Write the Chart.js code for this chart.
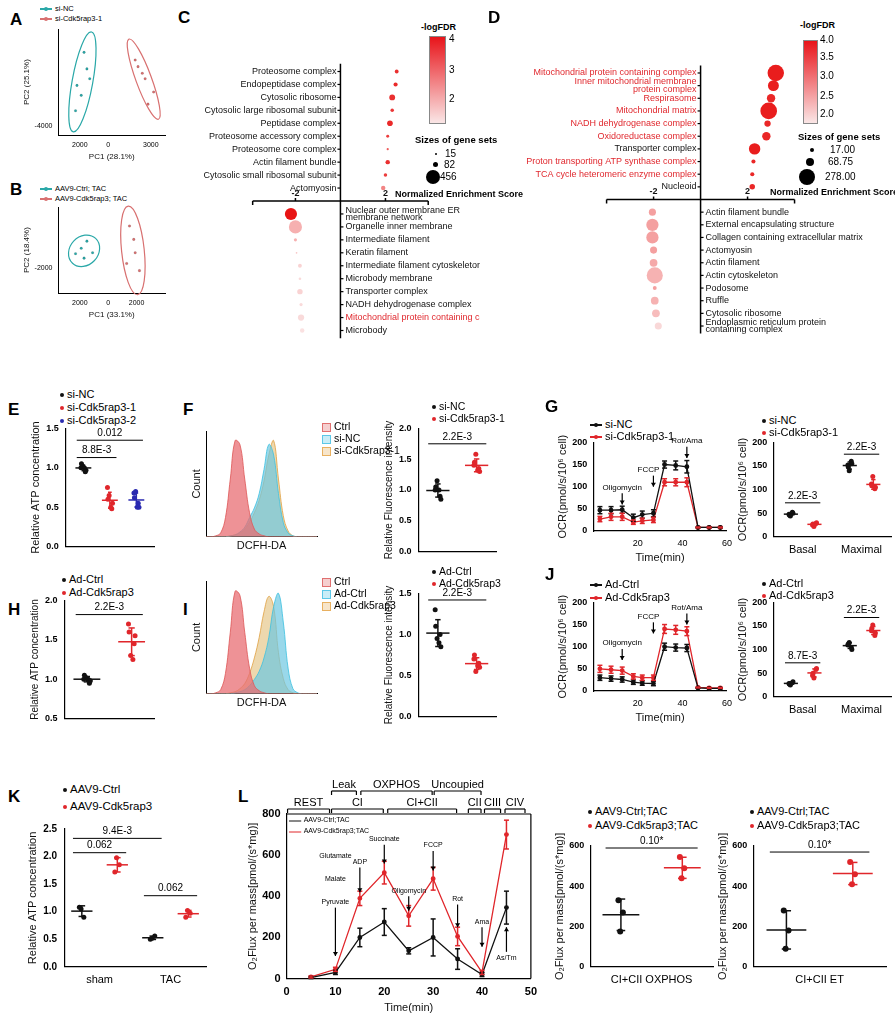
<!DOCTYPE html>
<html><head><meta charset="utf-8">
<script src="https://cdn.jsdelivr.net/npm/chart.js"></script>
<style>
body{margin:0;width:895px;height:1015px;position:relative;font-family:"Liberation Sans",Arial,sans-serif;background:#fff;overflow:hidden}
canvas{position:absolute}
.t{position:absolute;font-size:10px;white-space:nowrap;line-height:1.2}
.L{position:absolute;font-size:17px;font-weight:bold}
.dot{display:inline-block;width:4px;height:4px;border-radius:50%;margin-right:3px;vertical-align:middle}
.box{display:inline-block;width:7px;height:7px;margin-right:3px;vertical-align:middle;border:1px solid}
.ln{display:inline-block;width:12px;height:2px;margin-right:3px;vertical-align:middle;position:relative}
</style></head><body>
<script>
// ===== DATA =====
const pcaA_nc=[[-2300,-2600],[-1900,-1200],[-1500,1200],[-1700,2700],[-2200,-300],[-1300,300]];
const pcaA_kd=[[2100,1400],[2600,300],[3200,-900],[1900,2000],[2800,-2000],[2400,800]];
const pcaB_nc=[[-2300,-400],[-1900,200],[-1500,1000],[-1700,-900],[-1100,-300]];
const pcaB_kd=[[1500,2700],[1800,1200],[1300,-1500],[1900,-300],[2200,-2300]];

const cTopNames=["Proteosome complex","Endopeptidase complex","Cytosolic ribosome","Cytosolic large ribosomal subunit","Peptidase complex","Proteosome accessory complex","Proteosome core complex","Actin filament bundle","Cytosolic small ribosomal subunit","Actomyosin"];
const cTopNES=[2.5,2.45,2.3,2.3,2.2,2.1,2.1,2.1,2.0,1.9];
const cTopFDR=[3.6,3.7,3.6,3.5,3.7,3.4,3.0,3.6,3.4,2.4];
const cTopSize=[30,35,70,25,65,18,10,40,25,40];
const cBotNames=["Nuclear outer membrane ER\nmembrane network","Organelle inner membrane","Intermediate filament","Keratin filament","Intermediate filament cytoskeleton","Microbody membrane","Transporter complex","NADH dehydrogenase complex","Mitochondrial protein containing complex","Microbody"];
const cBotNES=[-2.2,-2.0,-2.0,-1.95,-1.8,-1.8,-1.8,-1.75,-1.75,-1.7];
const cBotFDR=[4.0,1.8,1.8,1.5,1.3,1.2,1.3,1.2,1.2,1.1];
const cBotSize=[300,350,20,6,30,14,60,20,80,40];
const cBotRed=[0,0,0,0,0,0,0,0,1,0];

const dTopNames=["Mitochondrial protein containing complex","Inner mitochondrial membrane\nprotein complex","Respirasome","Mitochondrial matrix","NADH dehydrogenase complex","Oxidoreductase complex","Transporter complex","Proton transporting ATP synthase complex","TCA cycle heteromeric enzyme complex","Nucleoid"];
const dTopNES=[3.2,3.1,3.0,2.9,2.85,2.8,2.3,2.25,2.2,2.2];
const dTopFDR=[3.9,3.9,3.8,3.9,3.8,3.8,3.9,3.8,3.8,3.8];
const dTopSize=[270,120,70,278,40,70,130,17,17,30];
const dTopRed=[1,1,1,1,1,1,0,1,1,0];
const dBotNames=["Actin filament bundle","External encapsulating structure","Collagen containing extracellular matrix","Actomyosin","Actin filament","Actin cytoskeleton","Podosome","Ruffle","Cytosolic ribosome","Endoplasmic reticulum protein\ncontaining complex"];
const dBotNES=[-2.05,-2.05,-2.05,-2.0,-2.0,-1.95,-1.95,-1.95,-1.9,-1.8];
const dBotFDR=[2.5,2.5,2.5,2.5,2.4,2.3,2.5,2.3,2.2,1.9];
const dBotSize=[50,150,150,50,60,260,15,60,60,50];

const eVals=[[1.0,0.95,1.02,0.97,1.05,1.0],[0.75,0.48,0.65,0.55,0.6,0.5],[0.68,0.55,0.7,0.5,0.62,0.5]];
const fHistX=[...Array(24).keys()];
const fCtrl=[0,0,1,4,20,60,100,96,60,25,8,3,1,0,0,0,0,0,0,0,0,0,0,0];
const fNC=[0,0,0,0,0,1,2,5,10,20,30,45,70,96,85,45,15,4,1,0,0,0,0,0];
const fKD=[0,0,0,0,0,1,2,4,8,15,25,38,58,85,100,60,22,6,1,0,0,0,0,0];
const fDot=[[1.0,0.9,1.15,0.85,1.05,1.0],[1.4,1.35,1.58,1.3,1.45,1.32]];
const gTime=[3,8,13,18,22,27,32,37,42,47,52,57];
const gNC=[47,47,48,30,37,40,150,148,145,8,8,8];
const gNCerr=[8,8,8,8,8,8,8,10,14,1,1,1];
const gKD=[27,32,32,20,23,25,110,110,110,8,8,8];
const gKDerr=[6,8,8,5,6,6,8,8,10,1,1,1];
const gCats=["Basal","Maximal"];
const gDot=[[[48,52,44,50,46],[152,160,140,155,148]],[[25,28,22,30,27],[112,102,128,105,108]]];

const hVals=[[1.0,0.95,1.02,0.98,1.05,1.0],[1.7,1.45,1.3,1.55,1.6,1.25]];
const iCtrl=[0,0,1,4,20,60,100,96,60,25,8,3,1,0,0,0,0,0,0,0,0,0,0,0];
const iAd=[0,0,0,0,0,0,1,2,4,8,14,22,35,55,85,98,70,25,5,1,0,0,0,0];
const iKD=[0,0,0,0,0,1,2,5,10,20,35,55,80,95,85,40,15,4,1,0,0,0,0,0];
const iDot=[[1.3,1.0,0.95,0.85,1.1,0.9],[0.7,0.65,0.55,0.6,0.75,0.62]];
const jCtrl=[30,28,26,20,18,17,100,98,97,7,6,6];
const jCtrlErr=[6,6,6,5,5,5,8,8,8,1,1,1];
const jKD=[50,48,46,33,30,30,140,138,135,8,7,7];
const jKDerr=[8,8,8,6,6,6,10,10,10,1,1,1];
const jDot=[[[28,30,25,32,27],[110,105,115,100,112]],[[45,58,40,60,50],[140,130,152,135,145]]];

const kCats=["sham","TAC"];
const kVals=[[[1.08,0.9,1.05],[0.5,0.56,0.52]],[[1.72,1.85,1.98],[0.9,0.97,1.02]]];
const lTime=[5,10,15,20,25,30,35,40,45];
const lCtrl=[5,30,200,275,135,200,95,20,345];
const lCtrlErr=[5,10,45,65,15,90,50,10,80];
const lKD=[8,45,390,515,305,485,205,30,700];
const lKDerr=[5,10,35,55,50,55,45,10,70];
const lPhaseNames=['REST','CI','CI+CII','CII','CIII','CIV','Leak','OXPHOS','Uncoupied'];
const lPhaseFrom=[0,9,20.5,37,40.3,44.5,9,15,30];
const lPhaseTo=[9,20,35,40,44,49,14.5,30,40];
const lPhaseRow=[0,0,0,0,0,0,1,1,1];
const lOx=[[330,270,175],[545,490,440]];
const lEt=[[280,180,90],[520,460,410]];

// ===== HELPERS =====
const FONT='"Liberation Sans", Arial, sans-serif';
Chart.defaults.font.family=FONT;Chart.defaults.font.size=9;Chart.defaults.color='#111';
Chart.defaults.animation=false;
function cv(x,y,w,h){const c=document.createElement('canvas');c.width=w;c.height=h;c.style.left=x+'px';c.style.top=y+'px';c.style.width=w+'px';c.style.height=h+'px';document.body.appendChild(c);return c;}
function T(x,y,html,st){const d=document.createElement('div');d.className='t';d.style.left=x+'px';d.style.top=y+'px';d.innerHTML=html;if(st)d.style.cssText+=st;document.body.appendChild(d);return d;}
function P(x,y,l){const d=document.createElement('div');d.className='L';d.style.left=x+'px';d.style.top=y+'px';d.textContent=l;document.body.appendChild(d);}
function legend(x,y,items,type,gap,fs){items.forEach((it,i)=>{let m;if(type==='dot')m=`<span class="dot" style="background:${it[1]}"></span>`;else if(type==='box')m=`<span class="box" style="border-color:${it[1]};background:${it[1]}55"></span>`;else m=`<span class="ln" style="background:${it[1]}"><span style="position:absolute;left:4px;top:-1.5px;width:4px;height:4px;border-radius:50%;background:${it[1]}"></span></span>`;T(x,y+i*(gap||13),m+it[0],'font-size:'+(fs||11)+'px');});}
function ln(ctx,x1,y1,x2,y2,c,w){ctx.save();ctx.strokeStyle=c;ctx.lineWidth=w||1;ctx.beginPath();ctx.moveTo(x1,y1);ctx.lineTo(x2,y2);ctx.stroke();ctx.restore();}
function tx(ctx,t,x,y,f,c,al,bl){ctx.save();ctx.font=f||('9px '+FONT);ctx.fillStyle=c||'#111';ctx.textAlign=al||'center';ctx.textBaseline=bl||'bottom';ctx.fillText(t,x,y);ctx.restore();}
const mean=a=>a.reduce((s,v)=>s+v,0)/a.length;
const sd=a=>{const m=mean(a);return Math.sqrt(a.reduce((s,v)=>s+(v-m)*(v-m),0)/(a.length-1));};
function yAx(min,max,step,title,extra){return Object.assign({min,max,border:{color:'#000',width:1.2},grid:{display:false,drawTicks:true,tickLength:4,tickColor:'#000'},ticks:{stepSize:step,font:{size:9,weight:'bold'},color:'#000',padding:2},title:{display:!!title,text:title,font:{size:11},padding:1}},extra||{});}
function errDraw(ch,x,m,s,col,hw,cw){const c=ch.ctx,X=ch.scales.x,Y=ch.scales.y;const px=X.getPixelForValue(x);ln(c,px,Y.getPixelForValue(m-s),px,Y.getPixelForValue(m+s),col,1.5);if(hw)ln(c,X.getPixelForValue(x-hw),Y.getPixelForValue(m),X.getPixelForValue(x+hw),Y.getPixelForValue(m),col,1.5);[m-s,m+s].forEach(v=>ln(c,px-cw,Y.getPixelForValue(v),px+cw,Y.getPixelForValue(v),col,1.5));}
const JIT=[-0.1,0.08,-0.03,0.11,-0.08,0.04];
function dotPlot(c,o){
 const G=o.vals.length, C=o.cats.length, gw=o.gw||0.45, jw=o.jw||1;
 const pos=(ci,g)=>ci+(g-(G-1)/2)*gw;
 const ds=o.vals.map((gv,g)=>({data:gv.flatMap((arr,ci)=>arr.map((v,k)=>({x:pos(ci,g)+JIT[k%6]*jw*gw,y:v}))),backgroundColor:o.colors[g],borderWidth:0,pointRadius:o.pr||2.5}));
 new Chart(c,{type:'scatter',data:{datasets:ds},options:{responsive:false,layout:{padding:{top:o.pt||4,right:4}},plugins:{legend:{display:false},tooltip:{enabled:false}},
  scales:{x:{min:-0.5-(o.xpad||0),max:C-0.5+(o.xpad||0),border:{color:'#000',width:1.2},grid:{display:false,tickLength:4,tickColor:'#000'},afterBuildTicks:s=>{s.ticks=o.cats.map((_,i)=>({value:i}))},ticks:{display:!o.noX,font:{size:11},color:'#000',callback:(v,i)=>o.cats[i]}},y:yAx(o.min,o.max,o.step,o.title,o.yx)}},
  plugins:[{afterDatasetsDraw(ch){o.vals.forEach((gv,g)=>gv.forEach((arr,ci)=>errDraw(ch,pos(ci,g),mean(arr),sd(arr),o.colors[g],gw*0.3,gw*0.14*ch.scales.x.width/(C+1))));
   (o.br||[]).forEach(b=>{const X=ch.scales.x,Y=ch.scales.y;const x1=X.getPixelForValue(pos(b[0],b[1])-gw*0.25),x2=X.getPixelForValue(pos(b[2],b[3])+gw*0.25),y=Y.getPixelForValue(b[4]);ln(ch.ctx,x1,y,x2,y,'#000',1);tx(ch.ctx,b[5],(x1+x2)/2,y-2,'10px '+FONT,'#000');});}}]});
}
function confEll(ch,pts,col){const X=ch.scales.x,Y=ch.scales.y;const p=pts.map(q=>[X.getPixelForValue(q[0]),Y.getPixelForValue(q[1])]);const mx=mean(p.map(q=>q[0])),my=mean(p.map(q=>q[1]));let a=0,b=0,d=0;p.forEach(q=>{a+=(q[0]-mx)**2;b+=(q[0]-mx)*(q[1]-my);d+=(q[1]-my)**2;});const n=p.length-1;a/=n;b/=n;d/=n;const tr=a+d,det=a*d-b*b,l1=tr/2+Math.sqrt(tr*tr/4-det),l2=tr/2-Math.sqrt(tr*tr/4-det);const ang=Math.atan2(l1-a,b||1e-9);const k=2.45;const c=ch.ctx;c.save();c.strokeStyle=col;c.lineWidth=1.2;c.beginPath();c.ellipse(mx,my,k*Math.sqrt(l1),k*Math.sqrt(Math.max(l2,1)),ang,0,Math.PI*2);c.stroke();c.restore();}
function pca(c,nc,kd,xt,yt,xl,yl){new Chart(c,{type:'scatter',data:{datasets:[{data:nc.map(q=>({x:q[0],y:q[1]})),backgroundColor:'#2aa8a8',pointRadius:1.3},{data:kd.map(q=>({x:q[0],y:q[1]})),backgroundColor:'#d87070',pointRadius:1.3}]},
 options:{responsive:false,plugins:{legend:{display:false},tooltip:{enabled:false}},scales:{x:{min:-3500,max:4000,border:{color:'#000'},grid:{display:false,tickLength:3,tickColor:'#000'},afterBuildTicks:s=>{s.ticks=xt.map(v=>({value:v}))},ticks:{font:{size:7},color:'#000',callback:v=>String(Math.abs(v))},title:{display:true,text:xl,font:{size:8},padding:0}},
 y:{min:-4800,max:4800,border:{color:'#000'},grid:{display:false,tickLength:3,tickColor:'#000'},afterBuildTicks:s=>{s.ticks=yt.map(v=>({value:v}))},ticks:{font:{size:7},color:'#000',callback:v=>String(v)},title:{display:true,text:yl,font:{size:8},padding:0}}}},
 plugins:[{afterDatasetsDraw(ch){confEll(ch,nc,'#2aa8a8');confEll(ch,kd,'#d87070');}}]});}
function redScale(v,lo,hi){const t=Math.max(0,Math.min(1,(v-lo)/(hi-lo)));return `rgb(${Math.round(250-18*t)},${Math.round(225-205*t)},${Math.round(225-205*t)})`;}
function bubble(c,o){
 const top=o.tn.map((n,i)=>({x:o.tx[i],y:10-i,r:o.rs*Math.sqrt(o.ts[i]),col:redScale(o.tf[i],o.lo,o.hi)}));
 const bot=o.bn.map((n,i)=>({x:o.bx[i],y:-1-i,r:o.rs*Math.sqrt(o.bs[i]),col:redScale(o.bf[i],o.lo,o.hi)}));
 const all=top.concat(bot);
 new Chart(c,{type:'bubble',data:{datasets:[{data:all,backgroundColor:all.map(p=>p.col),borderWidth:0}]},options:{responsive:false,layout:{padding:0},plugins:{legend:{display:false},tooltip:{enabled:false}},
  scales:{x:{display:false,min:o.xmin,max:o.xmax},y:{display:false,min:-11,max:11}}},
  plugins:[{beforeDatasetsDraw(ch){const X=v=>ch.scales.x.getPixelForValue(v),Y=v=>ch.scales.y.getPixelForValue(v),cx=ch.ctx;
   ln(cx,X(-o.ax),Y(0),X(o.ax),Y(0),'#000',1.5);[-o.ax,-2,2,o.ax].forEach(v=>ln(cx,X(v),Y(0),X(v),Y(0)+(Math.abs(v)==2?-3:4),'#000',1.5));
   tx(cx,'-2',X(-2),Y(0)-3,'bold 9px '+FONT);tx(cx,'2',X(2),Y(0)-3,'bold 9px '+FONT);
   ln(cx,X(0),Y(10.6),X(0),Y(-10.6),'#000',1.5);
   o.tn.forEach((n,i)=>{ln(cx,X(0)-3,Y(10-i),X(0),Y(10-i),'#000',1.2);const parts=n.split('\n');parts.forEach((p,j)=>tx(cx,p,X(0)-4,Y(10-i)+(j-(parts.length-1)/2)*7.5,'9px '+FONT,o.tr&&o.tr[i]?'#e0282e':'#111','right','middle'));});
   o.bn.forEach((n,i)=>{ln(cx,X(0),Y(-1-i),X(0)+3,Y(-1-i),'#000',1.2);const parts=n.split('\n');parts.forEach((p,j)=>tx(cx,p,X(0)+5,Y(-1-i)+(j-(parts.length-1)/2)*7.5,'9px '+FONT,o.br&&o.br[i]?'#e0282e':'#111','left','middle'));});}}]});
}
function lineOCR(c,o){
 const ds=o.series.map(s=>({data:o.t.map((t,i)=>({x:t,y:s.v[i]})),borderColor:s.c,backgroundColor:s.c,borderWidth:1.3,pointRadius:1.8,showLine:true}));
 new Chart(c,{type:'scatter',data:{datasets:ds},options:{responsive:false,layout:{padding:{top:o.pt||4,right:6}},plugins:{legend:{display:false},tooltip:{enabled:false}},
  scales:{x:{min:o.xmin||0,max:o.xmax,border:{color:'#000',width:1.2},grid:{display:false,tickLength:4,tickColor:'#000'},ticks:{stepSize:o.xstep,font:{size:o.xfs||9,weight:o.xbold?'bold':'normal'},color:'#000',callback:v=>(o.hide0&&v==0)?'':v},title:{display:true,text:'Time(min)',font:{size:11},padding:0}},
   y:yAx(0,o.ymax,o.ystep,o.title,{ticks:{stepSize:o.ystep,font:{size:o.yfs||9,weight:'bold'},color:'#000',padding:2}})}},
  plugins:[{afterDatasetsDraw(ch){o.series.forEach(s=>o.t.forEach((t,i)=>errDraw(ch,t,s.v[i],s.e[i],s.c,0,2.5)));
   const X=v=>ch.scales.x.getPixelForValue(v),Y=v=>ch.scales.y.getPixelForValue(v),cx=ch.ctx;
   (o.arrows||[]).forEach(a=>{const x=X(a[0]),y1=Y(a[1]),y2=Y(a[2]);ln(cx,x,y1,x,y2,'#000',1.2);const d=y2>y1?1:-1;cx.beginPath();cx.moveTo(x,y2);cx.lineTo(x-2.5,y2-4*d);cx.lineTo(x+2.5,y2-4*d);cx.closePath();cx.fillStyle='#000';cx.fill();
     const lines=a[3].split('\n');lines.forEach((l,j)=>tx(cx,l,x+(a[4]||0),(d>0?y1-2:y1+10)-(lines.length-1-j)*(a[5]||12),(o.afs||8)+'px '+FONT,'#000'));});
   if(o.extra)o.extra(ch);}}]});
}
function hist(c,curves){
 new Chart(c,{type:'line',data:{labels:fHistX,datasets:curves.map(q=>({data:q[0],borderColor:q[1],backgroundColor:q[2],fill:'origin',borderWidth:0.8,pointRadius:0,tension:0.4}))},
  options:{responsive:false,layout:{padding:{top:6,right:8}},plugins:{legend:{display:false},tooltip:{enabled:false}},scales:{x:{border:{color:'#000'},grid:{display:false,tickLength:3,tickColor:'#333'},ticks:{display:false},title:{display:true,text:'DCFH-DA',font:{size:11},padding:0}},y:{min:0,max:110,border:{color:'#000'},grid:{display:false,tickLength:3,tickColor:'#333'},ticks:{display:false,stepSize:25},title:{display:true,text:'Count',font:{size:11},padding:0}}}}});
}
const RED='#e0262b',BLK='#111',BLU='#2a2ab0',TEAL='#2aa8a8';
const yfmt={ticks:{stepSize:0.5,font:{size:9,weight:'bold'},color:'#000',callback:v=>v.toFixed(1)}};

// ===== PANELS =====
P(10,10,'A');legend(40,4,[['si-NC',TEAL],['si-Cdk5rap3-1','#d87070']],'line',10,7.5);
pca(cv(22,22,148,140),pcaA_nc,pcaA_kd,[-2000,0,3000],[-4000],'PC1 (28.1%)','PC2 (25.1%)');
P(10,180,'B');legend(40,184,[['AAV9-Ctrl; TAC',TEAL],['AAV9-Cdk5rap3; TAC','#d87070']],'line',10,7.5);
pca(cv(22,200,148,120),pcaB_nc,pcaB_kd,[-2000,0,2000],[-2000],'PC1 (33.1%)','PC2 (18.4%)');

P(178,8,'C');
bubble(cv(175,52,305,298),{tn:cTopNames,tx:cTopNES,tf:cTopFDR,ts:cTopSize,bn:cBotNames,bx:cBotNES,bf:cBotFDR,bs:cBotSize,br:cBotRed,lo:1.1,hi:4,rs:0.35,xmin:-7.06,xmax:5.91,ax:3.9});
T(421,22,'-logFDR','font-weight:bold;font-size:9px');
T(429,36,'','width:15px;height:86px;border:1px solid #888;background:linear-gradient(#e8141a,#fae6e6)');
T(449,33,'4');T(449,64,'3');T(449,93,'2');
T(415,134,'Sizes of gene sets','font-weight:bold;font-size:9.5px');
T(432,148,'<span style="display:inline-block;width:2px;height:2px;border-radius:50%;background:#000;margin:0 8px 2px 3px"></span>15');
T(432,159,'<span style="display:inline-block;width:5px;height:5px;border-radius:50%;background:#000;margin:0 6px 1px 1px"></span>82');
T(426,170,'<span style="display:inline-block;width:14px;height:14px;border-radius:50%;background:#000;vertical-align:middle;margin-right:0"></span>456');
T(395,189,'Normalized Enrichment Score','font-weight:bold;font-size:9px');

P(488,8,'D');
bubble(cv(485,52,410,295),{tn:dTopNames,tx:dTopNES,tf:dTopFDR,ts:dTopSize,tr:dTopRed,bn:dBotNames,bx:dBotNES,bf:dBotFDR,bs:dBotSize,lo:1.8,hi:4,rs:0.5,xmin:-8.82,xmax:7.92,ax:4});
T(800,20,'-logFDR','font-weight:bold;font-size:9px');
T(803,40,'','width:13px;height:82px;border:1px solid #888;background:linear-gradient(#e8141a,#fae6e6)');
T(820,34,'4.0');T(820,51,'3.5');T(820,70,'3.0');T(820,90,'2.5');T(820,108,'2.0');
T(798,131,'Sizes of gene sets','font-weight:bold;font-size:9.5px');
T(805,144,'<span style="display:inline-block;width:4px;height:4px;border-radius:50%;background:#000;margin:0 16px 1px 5px"></span>17.00');
T(803,156,'<span style="display:inline-block;width:8px;height:8px;border-radius:50%;background:#000;margin:0 14px 0 3px;vertical-align:middle"></span>68.75');
T(799,169,'<span style="display:inline-block;width:16px;height:16px;border-radius:50%;background:#000;vertical-align:middle;margin-right:10px"></span>278.00');
T(770,187,'Normalized Enrichment Score','font-weight:bold;font-size:9px');

// E
P(8,400,'E');legend(60,388,[['si-NC',BLK],['si-Cdk5rap3-1',RED],['si-Cdk5rap3-2',BLU]],'dot',13,11);
dotPlot(cv(28,420,130,135),{cats:[''],vals:eVals.map(v=>[v]),colors:[BLK,RED,BLU],gw:0.3,jw:0.9,min:0,max:1.5,step:0.5,title:'Relative ATP concentration',noX:true,yx:yfmt,br:[[0,0,0,1,1.13,'8.8E-3'],[0,0,0,2,1.35,'0.012']]});
// F
P(183,400,'F');
hist(cv(190,425,135,128),[[fCtrl,'#d55','rgba(232,110,115,0.75)'],[fNC,'#3bc0e0','rgba(110,200,225,0.7)'],[fKD,'#e0a040','rgba(225,190,120,0.6)']]);
legend(322,420,[['Ctrl','#e07070'],['si-NC','#5cc8e8'],['si-Cdk5rap3-1','#e8b060']],'box',12,10.5);
legend(432,400,[['si-NC',BLK],['si-Cdk5rap3-1',RED]],'dot',12,10.5);
dotPlot(cv(382,420,118,140),{cats:[''],vals:fDot.map(v=>[v]),colors:[BLK,RED],gw:0.5,jw:0.7,min:0,max:2,step:0.5,title:'Relative Fluorescence intensity',noX:true,yx:Object.assign({},yfmt,{title:{display:true,text:'Relative Fluorescence intensity',font:{size:10},padding:1}}),br:[[0,0,0,1,1.75,'2.2E-3']]});
// G
P(545,397,'G');legend(590,418,[['si-NC',BLK],['si-Cdk5rap3-1',RED]],'line',12,11);
lineOCR(cv(555,435,180,130),{t:gTime,xmax:60,xstep:20,ymax:200,ystep:50,hide0:true,title:'OCR(pmol/s/10⁶ cell)',series:[{v:gNC,e:gNCerr,c:BLK},{v:gKD,e:gKDerr,c:RED}],arrows:[[13,85,60,'Oligomycin'],[27,125,100,'FCCP',-5],[42,190,165,'Rot/Ama']],pt:4});
legend(762,414,[['si-NC',BLK],['si-Cdk5rap3-1',RED]],'dot',12,11);
dotPlot(cv(735,435,160,125),{cats:gCats,vals:gDot,colors:[BLK,RED],gw:0.4,jw:0.8,min:0,max:200,step:50,title:'OCR(pmol/s/10⁶ cell)',br:[[0,0,0,1,72,'2.2E-3'],[1,0,1,1,175,'2.2E-3']]});

// H
P(8,600,'H');legend(62,573,[['Ad-Ctrl',BLK],['Ad-Cdk5rap3',RED]],'dot',13,11);
dotPlot(cv(28,592,130,135),{cats:[''],vals:hVals.map(v=>[v]),colors:[BLK,RED],gw:0.5,jw:0.7,min:0.5,max:2,step:0.5,title:'Relative ATP concentration',noX:true,yx:Object.assign({},yfmt,{title:{display:true,text:'Relative ATP concentration',font:{size:10},padding:1}}),br:[[0,0,0,1,1.82,'2.2E-3']]});
P(183,600,'I');
hist(cv(190,575,135,135),[[iCtrl,'#d55','rgba(232,110,115,0.75)'],[iAd,'#3bc0e0','rgba(110,200,225,0.7)'],[iKD,'#e0a040','rgba(225,190,120,0.6)']]);
legend(322,575,[['Ctrl','#e07070'],['Ad-Ctrl','#5cc8e8'],['Ad-Cdk5rap3','#e8b060']],'box',12,10.5);
legend(432,565,[['Ad-Ctrl',BLK],['Ad-Cdk5rap3',RED]],'dot',12,10.5);
dotPlot(cv(382,585,118,140),{cats:[''],vals:iDot.map(v=>[v]),colors:[BLK,RED],gw:0.5,jw:0.7,min:0,max:1.5,step:0.5,title:'Relative Fluorescence intensity',noX:true,yx:Object.assign({},yfmt,{title:{display:true,text:'Relative Fluorescence intensity',font:{size:10},padding:1}}),br:[[0,0,0,1,1.42,'2.2E-3']]});
P(545,565,'J');legend(590,578,[['Ad-Ctrl',BLK],['Ad-Cdk5rap3',RED]],'line',13,11);
lineOCR(cv(555,595,180,130),{t:gTime,xmax:60,xstep:20,ymax:200,ystep:50,hide0:true,title:'OCR(pmol/s/10⁶ cell)',series:[{v:jCtrl,e:jCtrlErr,c:BLK},{v:jKD,e:jKDerr,c:RED}],arrows:[[13,95,70,'Oligomycin'],[27,155,130,'FCCP',-5],[42,175,150,'Rot/Ama']],pt:4});
legend(762,577,[['Ad-Ctrl',BLK],['Ad-Cdk5rap3',RED]],'dot',12,11);
dotPlot(cv(735,595,160,125),{cats:gCats,vals:jDot,colors:[BLK,RED],gw:0.4,jw:0.8,min:0,max:200,step:50,title:'OCR(pmol/s/10⁶ cell)',br:[[0,0,0,1,72,'8.7E-3'],[1,0,1,1,168,'2.2E-3']]});

// K
P(8,787,'K');legend(63,783,[['AAV9-Ctrl',BLK],['AAV9-Cdk5rap3',RED]],'dot',17,11.5);
dotPlot(cv(25,820,185,170),{cats:kCats,vals:kVals,colors:[BLK,RED],gw:0.5,jw:0.7,min:0,max:2.5,step:0.5,title:'Relative ATP concentration',yx:{ticks:{stepSize:0.5,font:{size:10,weight:'bold'},color:'#000',callback:v=>v.toFixed(1)}},br:[[0,0,0,1,2.07,'0.062'],[1,0,1,1,1.29,'0.062'],[0,0,1,0,2.33,'9.4E-3']]});
// L
P(238,787,'L');
lineOCR(cv(245,772,295,243),{t:lTime,xmax:50,xstep:10,xfs:11,xbold:true,ymax:800,ystep:200,yfs:11,title:'O₂Flux per mass[pmol/(s*mg)]',series:[{v:lCtrl,e:lCtrlErr,c:BLK},{v:lKD,e:lKDerr,c:RED}],afs:7,
 arrows:[[10,345,110,'Glutamate\nMalate\nPyruvate',0,23],[15,540,420,'ADP'],[20,650,560,'Succinate'],[25,400,330,'Oligomycin'],[30,620,525,'FCCP'],[35,360,250,'Rot'],[40,250,155,'Ama'],[45,130,250,'As/Tm']],pt:42,
 extra:ch=>{const X=v=>ch.scales.x.getPixelForValue(v),cx=ch.ctx,top=ch.chartArea.top;ln(cx,X(0),top,X(50),top,'#000',1.2);ln(cx,X(50),top,X(50),ch.chartArea.bottom,'#000',1.2);
  [[BLK,'AAV9-Ctrl;TAC',10],[RED,'AAV9-Cdk5rap3;TAC',21]].forEach(q=>{const y=top+q[2]-3;ln(cx,X(0.5),y,X(3),y,q[0],1);tx(cx,q[1],X(3.5),y+3,'7px '+FONT,'#000','left');});
  lPhaseNames.forEach((n,i)=>{const x1=X(lPhaseFrom[i])+1,x2=X(lPhaseTo[i])-1,y=top-(lPhaseRow[i]?23:5);ln(cx,x1,y,x2,y,'#000',1.2);ln(cx,x1,y,x1,y+4,'#000',1.2);ln(cx,x2,y,x2,y+4,'#000',1.2);tx(cx,n,(x1+x2)/2,y-1,'11px '+FONT,'#000');});}});
legend(588,805,[['AAV9-Ctrl;TAC',BLK],['AAV9-Cdk5rap3;TAC',RED]],'dot',14,11);
dotPlot(cv(552,832,165,158),{cats:['CI+CII OXPHOS'],vals:lOx.map(v=>[v]),colors:[BLK,RED],gw:0.5,jw:0.4,min:0,max:600,step:200,title:'O₂Flux per mass[pmol/(s*mg)]',br:[[0,0,0,1,590,'0.10*']],pr:3,pt:14});
legend(750,805,[['AAV9-Ctrl;TAC',BLK],['AAV9-Cdk5rap3;TAC',RED]],'dot',14,11);
dotPlot(cv(715,832,175,158),{cats:['CI+CII ET'],vals:lEt.map(v=>[v]),colors:[BLK,RED],gw:0.5,jw:0.4,min:0,max:600,step:200,title:'O₂Flux per mass[pmol/(s*mg)]',br:[[0,0,0,1,570,'0.10*']],pr:3,pt:14});
</script>
</body></html>
